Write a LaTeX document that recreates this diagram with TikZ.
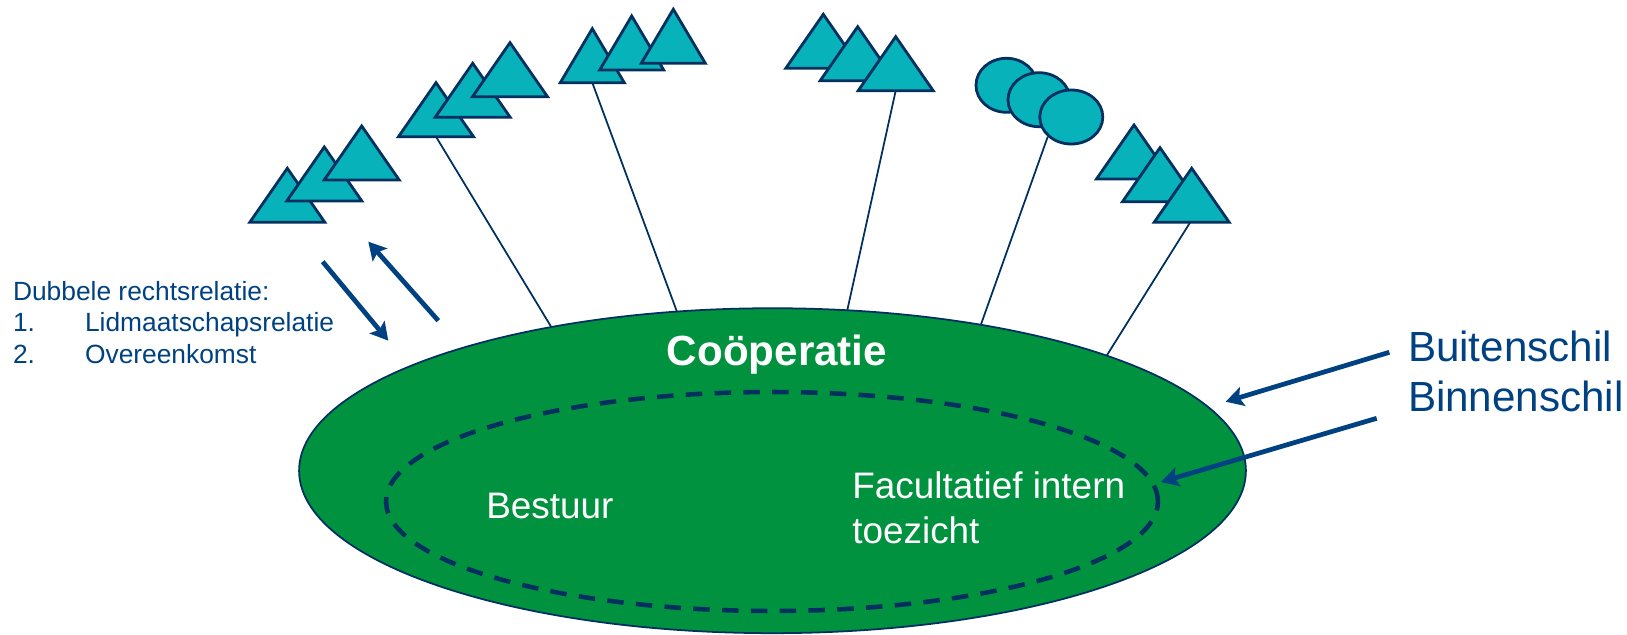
\documentclass[tikz,border=0pt]{standalone}
\usepackage{fontspec}
\setmainfont{Liberation Sans}
\usetikzlibrary{shapes.geometric, arrows.meta, positioning}
\definecolor{tealfill}{RGB}{8,178,187}
\definecolor{navyline}{RGB}{0,48,96}
\definecolor{textblue}{RGB}{0,65,130}
\definecolor{coopgreen}{RGB}{0,146,63}
\tikzstyle{member} = [draw=navyline, fill=tealfill, line width=1.6pt]
\tikzstyle{link} = [draw=navyline, line width=1pt]
\tikzstyle{arrow} = [draw=textblue, line width=2.7pt, -{Stealth[length=10pt,width=11pt,inset=2pt]}]
\tikzstyle{shell} = [ellipse, inner sep=0pt, outer sep=0pt]
\tikzstyle{lbl} = [text=white, inner sep=0pt, anchor=base west]
\tikzstyle{note} = [text=textblue, inner sep=0pt, anchor=base west]
\tikzset{pics/tri/.style={code={
  \draw[member] (-#1,0) -- (#1,0) -- (0,-54) -- cycle;
  \coordinate (-base) at (0,0);}},
  pics/tri/.default=37.5}

\begin{document}
\begin{tikzpicture}[x=0.02cm, y=-0.02cm]
\useasboundingbox (0,0) rectangle (1627,635);

% Shells
\node[shell, draw=navyline, fill=coopgreen, line width=1pt, minimum width=18.94cm, minimum height=6.5cm] (coop) at (772.5,470.7) {};
\node[shell, draw=navyline, line width=2.6pt, dash pattern=on 9.4pt off 7pt, minimum width=15.44cm, minimum height=4.38cm] (inner) at (772,501.5) {};

% Members
\pic (g1a) at (287.3,222.3) {tri};
\pic (g1b) at (324.3,201) {tri};
\pic (g1c) at (361.7,180) {tri};
\pic (g2a) at (436,136.7) {tri};
\pic (g2b) at (472.7,117.3) {tri};
\pic (g2c) at (510,96.7) {tri};
\pic (g3a) at (592.3,82.7) {tri=32};
\pic (g3b) at (631.7,70) {tri=32};
\pic (g3c) at (673.3,63.3) {tri=32};
\pic (g4a) at (823.3,68.3) {tri};
\pic (g4b) at (857.7,80.7) {tri};
\pic (g4c) at (895.7,90.7) {tri};
\node[member, ellipse, minimum width=1.22cm, minimum height=1.08cm] (g5a) at (1006.5,85.3) {};
\node[member, ellipse, minimum width=1.24cm, minimum height=1.08cm] (g5b) at (1039,99.7) {};
\node[member, ellipse, minimum width=1.26cm, minimum height=1.08cm] (g5c) at (1071.3,117) {};
\pic (g6a) at (1134,179) {tri};
\pic (g6b) at (1160,201.7) {tri};
\pic (g6c) at (1191.7,222.3) {tri};

% Links to the cooperative
\draw[link] (g2a-base) -- (coop.147);
\draw[link] (g3a-base) -- (coop.121);
\draw[link] (g4c-base) -- (coop.65);
\draw[link] (g5c.220) -- (coop.35);
\draw[link] ([xshift=-0.03cm]g6c-base) -- (coop.19);

% Texts (multi-line nodes sit on their last line)
\node[lbl, font=\bfseries\fontsize{24}{29}\selectfont, anchor=base] (cooptxt) at (777,365) {Coöperatie};
\node[lbl, font=\fontsize{21}{25.5}\selectfont] (bestuur) at (486,518) {Bestuur};
\node[lbl, font=\fontsize{21}{25.5}\selectfont, align=left] (toezicht) at (852,543) {Facultatief intern\\toezicht};
\node[note, font=\fontsize{24}{28.3}\selectfont, align=left] (schil) at (1407.7,411.7) {Buitenschil\\Binnenschil};
\node[note, font=\fontsize{15}{18}\selectfont, align=left] (rel) at (12.7,363.3) {Dubbele rechtsrelatie:\\\makebox[41pt][l]{1.}Lidmaatschapsrelatie\\\makebox[41pt][l]{2.}Overeenkomst};

% Arrows
\coordinate (down1) at (322.7,261.7);
\coordinate (down2) at (388.3,340.7);
\coordinate (up1) at (438.3,320.7);
\coordinate (up2) at (368.3,241.7);
\coordinate (buiten1) at (1389.3,352.3);
\coordinate (buiten2) at (1225.7,401.7);
\coordinate (binnen1) at (1376.7,418.3);
\coordinate (binnen2) at (1161,482);
\draw[arrow] (down1) -- (down2);
\draw[arrow] (up1) -- (up2);
\draw[arrow] (buiten1) -- (buiten2);
\draw[arrow] (binnen1) -- (binnen2);

\end{tikzpicture}
\end{document}
